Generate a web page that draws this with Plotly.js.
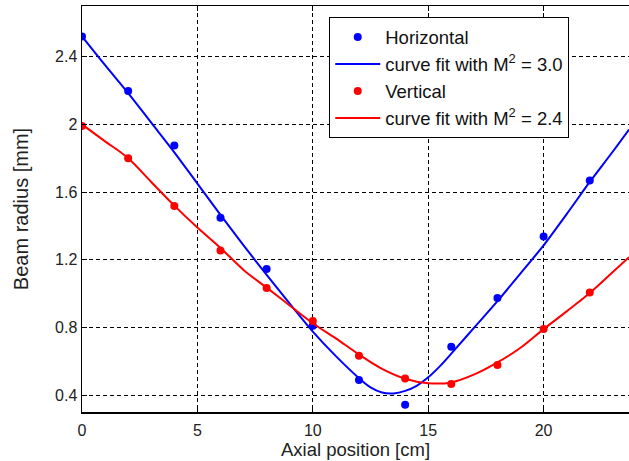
<!DOCTYPE html>
<html>
<head>
<meta charset="utf-8">
<script src="https://cdn.plot.ly/plotly-3.0.1.min.js"></script>
<style>html,body{margin:0;padding:0;background:#fff;}</style>
</head>
<body>
<div id="chart" style="width:629px;height:461px;"></div>
<script>
// Measured points
const pointX = [0, 2, 4, 6, 8, 10, 12, 14, 16, 18, 20, 22];
const horizY = [2.52, 2.197, 1.875, 1.448, 1.145, 0.81, 0.489, 0.343, 0.686, 0.974, 1.338, 1.669];
const vertY  = [1.99, 1.80, 1.517, 1.255, 1.033, 0.838, 0.633, 0.498, 0.465, 0.578, 0.79, 1.007];

// Fit curves
const fitHX = [0,1,2,3,4,5,6,7,8,9,10,11,12,12.5,13,13.5,14,14.5,15,15.5,16,17,18,19,20,21,22,23,23.7];
const fitHY = [2.52,2.35,2.185,2.01,1.835,1.65,1.465,1.285,1.11,0.94,0.775,0.63,0.50,0.445,0.415,0.41,0.425,0.455,0.505,0.57,0.645,0.80,0.955,1.12,1.285,1.47,1.66,1.84,1.97];
const fitVX = [0,1,2,3,4,5,6,7,8,9,10,11,12,13,14,15,16,17,18,19,20,21,22,23,23.7];
const fitVY = [2.0,1.90,1.80,1.66,1.52,1.39,1.27,1.14,1.035,0.93,0.825,0.735,0.64,0.555,0.497,0.47,0.475,0.522,0.593,0.68,0.79,0.895,1.003,1.127,1.215];

const xTicks = [0, 5, 10, 15, 20];
const yTicks = [0.4, 0.8, 1.2, 1.6, 2, 2.4];
const yTickText = ['0.4', '0.8', '1.2', '1.6', '2', '2.4'];

const FONT = 'Liberation Sans, Arial, sans-serif';

const traces = [
  {x: pointX, y: horizY, mode: 'markers', type: 'scatter', name: 'Horizontal',
   marker: {color: '#0000ff', size: 8}},
  {x: fitHX, y: fitHY, mode: 'lines', type: 'scatter', name: 'curve fit with M<sup>2</sup> = 3.0',
   line: {color: '#0000ff', width: 2, shape: 'spline'}},
  {x: pointX, y: vertY, mode: 'markers', type: 'scatter', name: 'Vertical',
   marker: {color: '#ff0000', size: 8}},
  {x: fitVX, y: fitVY, mode: 'lines', type: 'scatter', name: 'curve fit with M<sup>2</sup> = 2.4',
   line: {color: '#ff0000', width: 2, shape: 'spline'}}
];

const layout = {
  width: 629, height: 461,
  margin: {l: 82, r: 0, t: 6, b: 49},
  paper_bgcolor: '#fff', plot_bgcolor: '#fff',
  font: {family: FONT, size: 16, color: '#222'},
  showlegend: true,
  legend: {
    x: 0.452, y: 0.972, xanchor: 'left', yanchor: 'top',
    bgcolor: '#fff', bordercolor: '#000', borderwidth: 1,
    font: {family: FONT, size: 18.5, color: '#111'},
    tracegroupgap: 0, itemwidth: 45
  },
  xaxis: {
    range: [0, 23.7], tickvals: xTicks, ticktext: xTicks.map(String),
    showgrid: true, gridcolor: '#000', gridwidth: 1, griddash: '4px,3px',
    zeroline: false, showline: true, linecolor: '#000', linewidth: 1.5,
    mirror: 'ticks', ticks: 'inside', ticklen: 5, tickcolor: '#000',
    ticklabelstandoff: 3,
    tickfont: {family: FONT, size: 16, color: '#222'},
    title: {text: 'Axial position [cm]', font: {family: FONT, size: 18.5, color: '#222'}, standoff: 0}
  },
  yaxis: {
    range: [0.3, 2.7], tickvals: yTicks, ticktext: yTickText,
    showgrid: true, gridcolor: '#000', gridwidth: 1, griddash: '4px,3px',
    zeroline: false, showline: true, linecolor: '#000', linewidth: 1.5,
    mirror: false, ticks: 'inside', ticklen: 5, tickcolor: '#000',
    tickfont: {family: FONT, size: 16, color: '#222'},
    title: {text: 'Beam radius [mm]', font: {family: FONT, size: 20, color: '#222'}, standoff: 21}
  }
};

Plotly.newPlot('chart', traces, layout, {displayModeBar: false, staticPlot: true});
</script>
</body>
</html>
